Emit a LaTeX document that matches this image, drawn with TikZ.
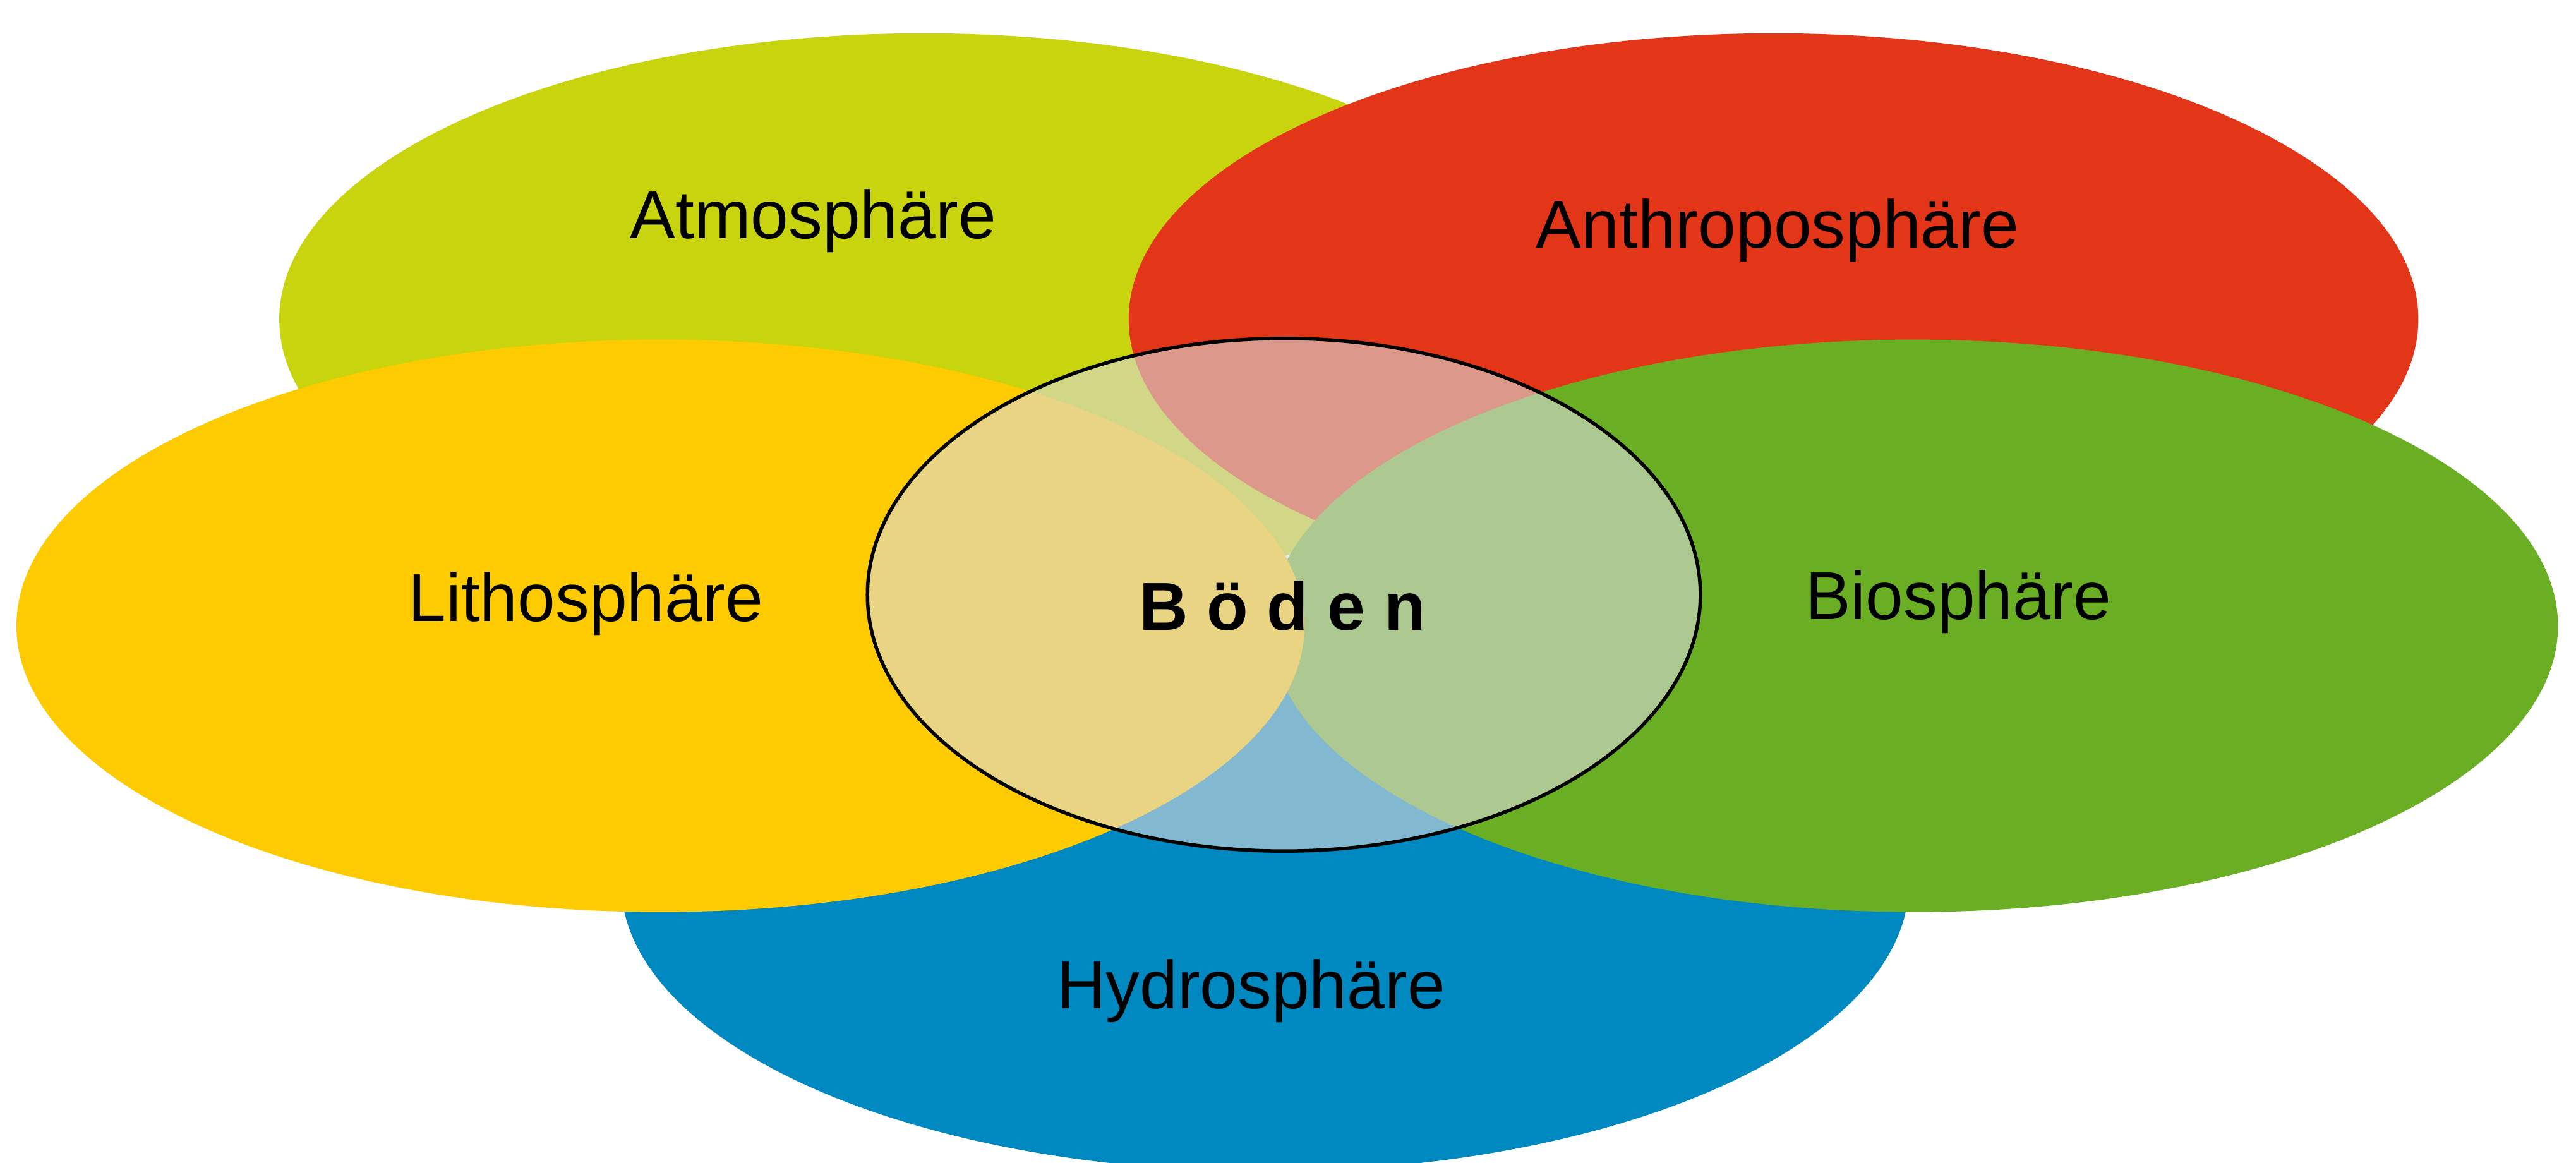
\documentclass[tikz,border=0pt]{standalone}
\usepackage{fontspec}
\setmainfont{Liberation Sans}
\definecolor{atmogruen}{RGB}{200,212,14}
\definecolor{anthrorot}{RGB}{227,53,24}
\definecolor{lithogelb}{RGB}{253,203,0}
\definecolor{biogruen}{RGB}{106,175,35}
\definecolor{hydroblau}{RGB}{0,136,193}
\definecolor{bodengrau}{RGB}{218,218,218}
\tikzset{sphaere/.style={font=\fontsize{11.75}{14}\selectfont, anchor=base, inner sep=0pt}}

\begin{document}
\begin{tikzpicture}
				\useasboundingbox (0,0) rectangle (15.68,-7.075);
				
				\fill[atmogruen] (5.62,-1.943) ellipse (3.92 and 1.74);
				\fill[anthrorot] (10.795,-1.943) ellipse (3.925 and 1.74);
				\fill[hydroblau] (7.70,-5.37) ellipse (3.92 and 1.76);
				\fill[biogruen] (11.65,-3.809) ellipse (3.92 and 1.742);
				\fill[lithogelb] (4.02,-3.809) ellipse (3.92 and 1.742);
				
				\draw[line width=0.6pt, fill=bodengrau, fill opacity=0.6] (7.815,-3.62) ellipse (2.535 and 1.56);
				
				\node[sphaere] (atmo) at (4.95,-1.452) {Atmosphäre};
				\node[sphaere] (anthro) at (10.82,-1.51) {Anthroposphäre};
				\node[sphaere] (litho) at (3.565,-3.78) {Lithosphäre};
				\node[sphaere] (bio) at (11.92,-3.77) {Biosphäre};
				\node[sphaere] (hydro) at (7.615,-6.14) {Hydrosphäre};
				\node[sphaere, font=\fontsize{11.75}{14}\selectfont\bfseries] (boeden) at (7.805,-3.837) {B ö d e n};
			\end{tikzpicture}
\end{document}
